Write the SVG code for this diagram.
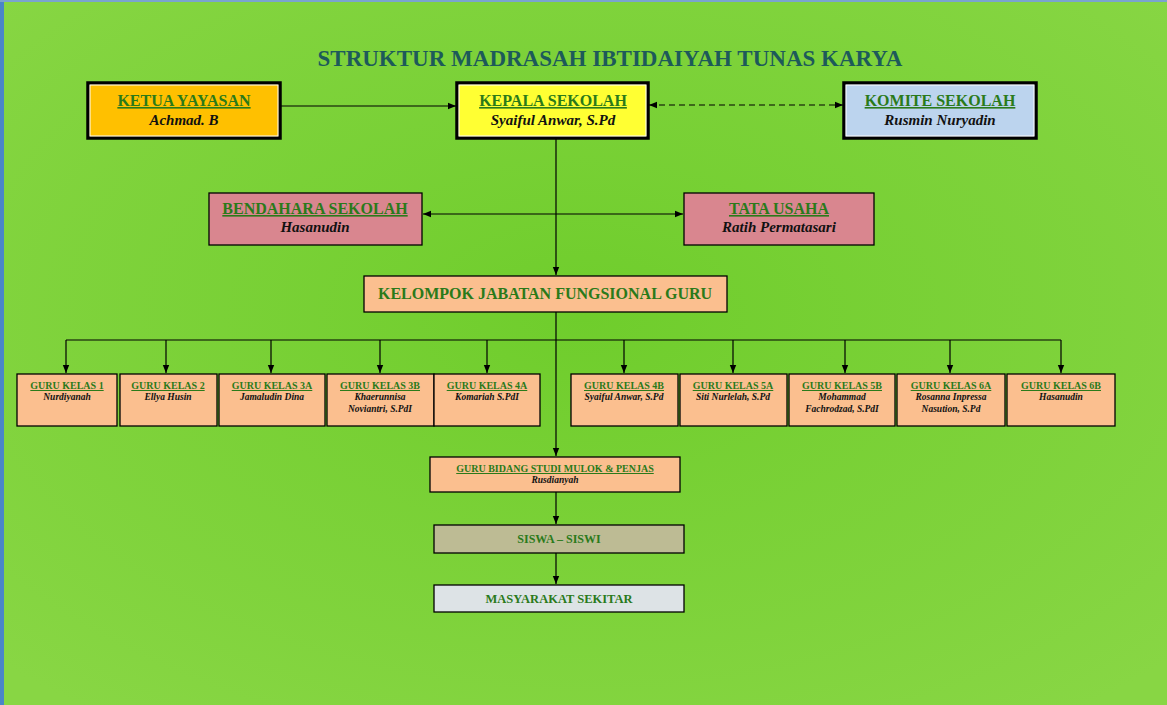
<svg xmlns="http://www.w3.org/2000/svg" width="1167" height="705" viewBox="0 0 1167 705">
<defs>
<radialGradient id="bg" cx="0.5" cy="0.45" r="0.7">
<stop offset="0" stop-color="#6fcd2c"/><stop offset="1" stop-color="#88d644"/>
</radialGradient>
<marker id="ar" viewBox="0 0 10 10" refX="10" refY="5" markerWidth="7" markerHeight="7" orient="auto-start-reverse"><path d="M0,1 L10,5 L0,9 z" fill="#000"/></marker>
<style>
.b{stroke:#000;stroke-width:1.3}
.d{stroke:#000;stroke-width:3.5}
.in{fill:none;stroke:#fff;stroke-width:1}
.h,.p{font-family:"Liberation Serif",serif;font-weight:bold;fill:#2a7a1a;text-anchor:middle}
.h{text-decoration:underline}
.n{font-family:"Liberation Serif",serif;font-weight:bold;font-style:italic;fill:#111;text-anchor:middle}
.c line{stroke:#000;stroke-width:1.2;fill:none}
</style>
</defs>
<rect width="1167" height="705" fill="url(#bg)"/>
<rect width="4" height="705" fill="#4a86c8"/>
<rect width="1167" height="2" fill="#7aa4cf"/>
<text x="610" y="66" font-family="Liberation Serif,serif" font-weight="bold" font-size="23" fill="#1d5a5a" text-anchor="middle">STRUKTUR MADRASAH IBTIDAIYAH TUNAS KARYA</text>
<g class="c">
<line x1="280" y1="106" x2="456" y2="106" marker-end="url(#ar)"/>
<line x1="649" y1="105" x2="843" y2="105" stroke-dasharray="6,4" marker-start="url(#ar)" marker-end="url(#ar)"/>
<line x1="556" y1="138" x2="556" y2="275" marker-end="url(#ar)"/>
<line x1="423" y1="214" x2="683" y2="214" marker-start="url(#ar)" marker-end="url(#ar)"/>
<line x1="556" y1="312" x2="556" y2="456" marker-end="url(#ar)"/>
<line x1="66" y1="340" x2="1061" y2="340"/>
<line x1="66" y1="340" x2="66" y2="373" marker-end="url(#ar)"/>
<line x1="166" y1="340" x2="166" y2="373" marker-end="url(#ar)"/>
<line x1="271" y1="340" x2="271" y2="373" marker-end="url(#ar)"/>
<line x1="380" y1="340" x2="380" y2="373" marker-end="url(#ar)"/>
<line x1="487" y1="340" x2="487" y2="373" marker-end="url(#ar)"/>
<line x1="624" y1="340" x2="624" y2="373" marker-end="url(#ar)"/>
<line x1="733" y1="340" x2="733" y2="373" marker-end="url(#ar)"/>
<line x1="845" y1="340" x2="845" y2="373" marker-end="url(#ar)"/>
<line x1="950" y1="340" x2="950" y2="373" marker-end="url(#ar)"/>
<line x1="1061" y1="340" x2="1061" y2="373" marker-end="url(#ar)"/>
<line x1="556" y1="492" x2="556" y2="524" marker-end="url(#ar)"/>
<line x1="556" y1="553" x2="556" y2="584" marker-end="url(#ar)"/>
</g>
<g id="ketua"><rect x="88" y="83" width="192" height="55" fill="#ffc000" class="d"/><rect x="90" y="85" width="188" height="51" class="in"/><text class="h" x="184" y="106" font-size="16">KETUA YAYASAN</text><text class="n" x="184" y="125" font-size="15">Achmad. B</text></g>
<g id="kepala"><rect x="457" y="83" width="191" height="55" fill="#ffff33" class="d"/><rect x="459" y="85" width="187" height="51" class="in"/><text class="h" x="553" y="106" font-size="16">KEPALA SEKOLAH</text><text class="n" x="553" y="125" font-size="15">Syaiful Anwar, S.Pd</text></g>
<g id="komite"><rect x="844" y="83" width="192" height="55" fill="#bcd4ee" class="d"/><rect x="846" y="85" width="188" height="51" class="in"/><text class="h" x="940" y="106" font-size="16">KOMITE SEKOLAH</text><text class="n" x="940" y="125" font-size="15">Rusmin Nuryadin</text></g>
<g id="bendahara"><rect x="209" y="193" width="213" height="52" fill="#d9868f" class="b"/><text class="h" x="315" y="214" font-size="16">BENDAHARA SEKOLAH</text><text class="n" x="315" y="232" font-size="15">Hasanudin</text></g>
<g id="tatausaha"><rect x="684" y="193" width="190" height="52" fill="#d9868f" class="b"/><text class="h" x="779" y="214" font-size="16">TATA USAHA</text><text class="n" x="779" y="232" font-size="15">Ratih Permatasari</text></g>
<g id="kelompok"><rect x="364" y="276" width="363" height="36" fill="#fbbf8f" class="b"/><text class="p" x="545" y="299" font-size="16">KELOMPOK JABATAN FUNGSIONAL GURU</text></g>
<g id="g1"><rect x="17" y="374" width="100" height="52" fill="#fbbf8f" class="b"/><text class="h" x="67" y="389" font-size="10">GURU KELAS 1</text><text class="n" x="67" y="400" font-size="9.5">Nurdiyanah</text></g>
<g id="g2"><rect x="120" y="374" width="97" height="52" fill="#fbbf8f" class="b"/><text class="h" x="168" y="389" font-size="10">GURU KELAS 2</text><text class="n" x="168" y="400" font-size="9.5">Ellya Husin</text></g>
<g id="g3a"><rect x="219" y="374" width="106" height="52" fill="#fbbf8f" class="b"/><text class="h" x="272" y="389" font-size="10">GURU KELAS 3A</text><text class="n" x="272" y="400" font-size="9.5">Jamaludin Dina</text></g>
<g id="g3b"><rect x="327" y="374" width="107" height="52" fill="#fbbf8f" class="b"/><text class="h" x="380" y="389" font-size="10">GURU KELAS 3B</text><text class="n" x="380" y="400" font-size="9.5">Khaerunnisa</text><text class="n" x="380" y="412" font-size="9.5">Noviantri, S.PdI</text></g>
<g id="g4a"><rect x="434" y="374" width="106" height="52" fill="#fbbf8f" class="b"/><text class="h" x="487" y="389" font-size="10">GURU KELAS 4A</text><text class="n" x="487" y="400" font-size="9.5">Komariah S.PdI</text></g>
<g id="g4b"><rect x="571" y="374" width="107" height="52" fill="#fbbf8f" class="b"/><text class="h" x="624" y="389" font-size="10">GURU KELAS 4B</text><text class="n" x="624" y="400" font-size="9.5">Syaiful Anwar, S.Pd</text></g>
<g id="g5a"><rect x="680" y="374" width="107" height="52" fill="#fbbf8f" class="b"/><text class="h" x="733" y="389" font-size="10">GURU KELAS 5A</text><text class="n" x="733" y="400" font-size="9.5">Siti Nurlelah, S.Pd</text></g>
<g id="g5b"><rect x="789" y="374" width="106" height="52" fill="#fbbf8f" class="b"/><text class="h" x="842" y="389" font-size="10">GURU KELAS 5B</text><text class="n" x="842" y="400" font-size="9.5">Mohammad</text><text class="n" x="842" y="412" font-size="9.5">Fachrodzad, S.PdI</text></g>
<g id="g6a"><rect x="897" y="374" width="108" height="52" fill="#fbbf8f" class="b"/><text class="h" x="951" y="389" font-size="10">GURU KELAS 6A</text><text class="n" x="951" y="400" font-size="9.5">Rosanna Inpressa</text><text class="n" x="951" y="412" font-size="9.5">Nasution, S.Pd</text></g>
<g id="g6b"><rect x="1007" y="374" width="108" height="52" fill="#fbbf8f" class="b"/><text class="h" x="1061" y="389" font-size="10">GURU KELAS 6B</text><text class="n" x="1061" y="400" font-size="9.5">Hasanudin</text></g>
<g id="mulok"><rect x="430" y="457" width="250" height="35" fill="#fbbf8f" class="b"/><text class="h" x="555" y="472" font-size="10">GURU BIDANG STUDI MULOK &amp; PENJAS</text><text class="n" x="555" y="483" font-size="9.5">Rusdianyah</text></g>
<g id="siswa"><rect x="434" y="525" width="250" height="28" fill="#bdbb94" class="b"/><text class="p" x="559" y="543" font-size="12">SISWA – SISWI</text></g>
<g id="masyarakat"><rect x="434" y="585" width="250" height="27" fill="#dde3e6" class="b"/><text class="p" x="559" y="603" font-size="12.5">MASYARAKAT SEKITAR</text></g>
</svg>
